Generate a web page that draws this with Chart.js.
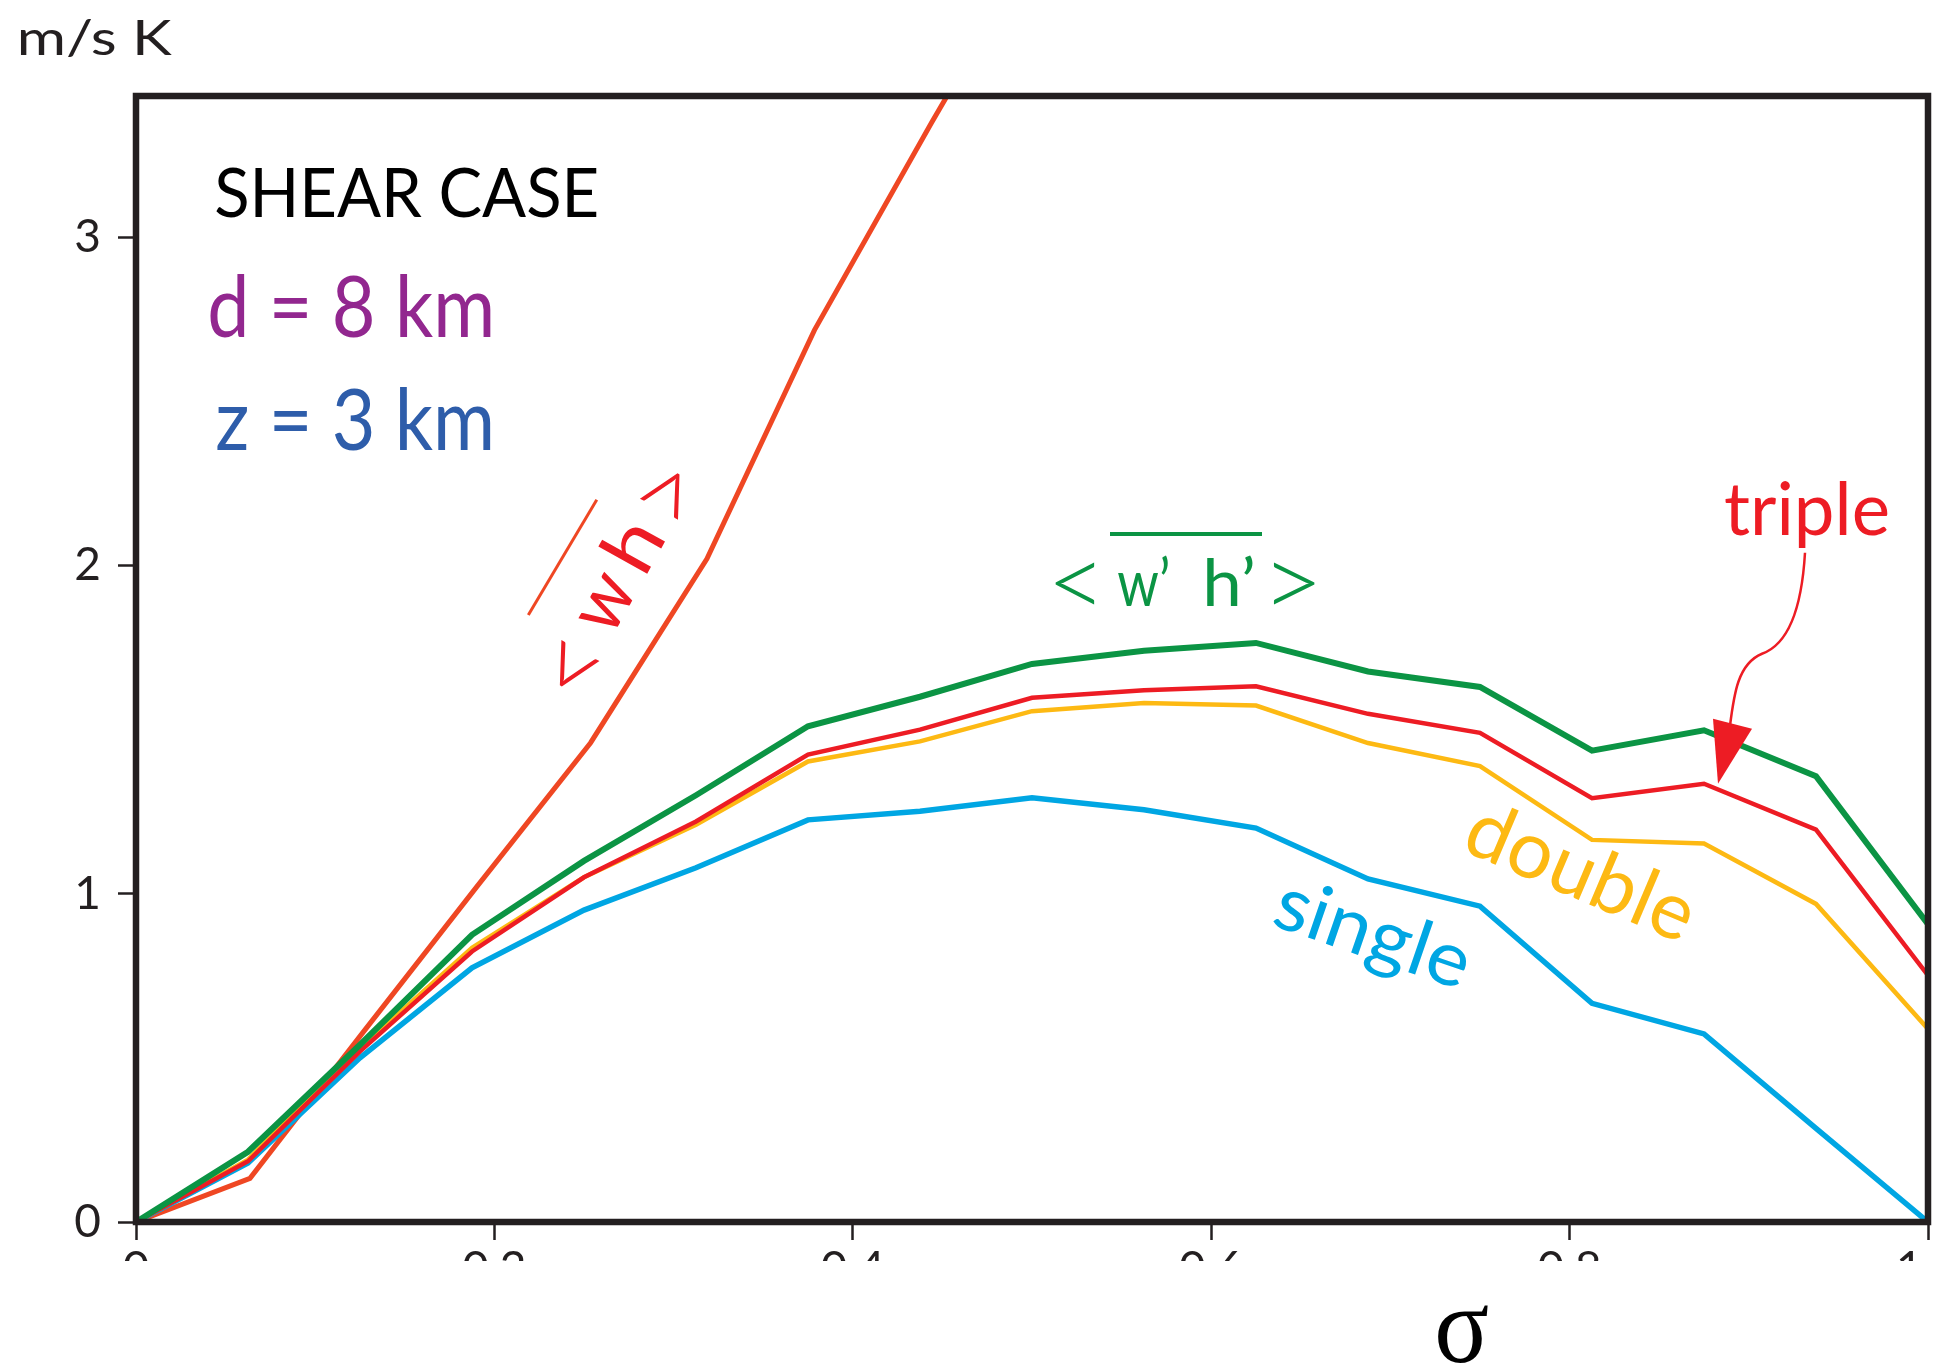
<!DOCTYPE html>
<html>
<head>
<meta charset="utf-8">
<script src="https://cdn.jsdelivr.net/npm/chart.js@4.4.0/dist/chart.umd.min.js"></script>
<style>
  html, body { margin: 0; padding: 0; background: #fff; }
  canvas { display: block; }
</style>
</head>
<body>
<canvas id="chart" width="1935" height="1365"></canvas>
<script>
// sigma levels shared by the four flux curves
const sigma = [0, 0.0625, 0.125, 0.1875, 0.25, 0.3125, 0.375, 0.4375, 0.5, 0.5625, 0.625, 0.6875, 0.75, 0.8125, 0.875, 0.9375, 1.0];

const wpHp = [0, 0.214, 0.54, 0.875, 1.10, 1.30, 1.51, 1.60, 1.70, 1.74, 1.764, 1.677, 1.63, 1.436, 1.498, 1.358, 0.907];
const tripleRun = [0, 0.185, 0.52, 0.824, 1.05, 1.22, 1.424, 1.50, 1.597, 1.62, 1.632, 1.548, 1.49, 1.291, 1.335, 1.195, 0.751];
const doubleRun = [0, 0.19, 0.53, 0.835, 1.05, 1.21, 1.403, 1.464, 1.556, 1.581, 1.573, 1.459, 1.389, 1.164, 1.153, 0.969, 0.588];
const singleRun = [0, 0.18, 0.50, 0.774, 0.95, 1.079, 1.225, 1.251, 1.292, 1.256, 1.20, 1.045, 0.962, 0.666, 0.573, 0.285, 0];

// <wh> curve, sampled slightly off the grid above
const whSigma = [0, 0.0636, 0.127, 0.19, 0.2537, 0.3186, 0.3786, 0.444, 0.51];
const wh = [0, 0.133, 0.58, 1.02, 1.46, 2.02, 2.717, 3.349, 3.97];

const xTicks = [0, 0.2, 0.4, 0.6, 0.8, 1.0];
const xTickLabels = ['0', '0.2', '0.4', '0.6', '0.8', '1.0'];
const yTicks = [0, 1, 2, 3];
const yTickLabels = ['0', '1', '2', '3'];

const INK = '#231F20';
const pts = (xs, ys) => ys.map((y, i) => ({ x: xs[i], y: y }));
const F = 'Lato, "Open Sans", sans-serif';
const THIN = '300 100px ' + F;   // light face for the angle brackets

// stretch a text's ink into a box (the source font is a narrow Myriad)
function fitBox(ctx, txt, bx, by, bw, bh, font, color) {
  ctx.save();
  ctx.font = font;
  ctx.textAlign = 'left';
  ctx.textBaseline = 'alphabetic';
  const m = ctx.measureText(txt);
  const L = m.actualBoundingBoxLeft, R = m.actualBoundingBoxRight;
  const A = m.actualBoundingBoxAscent, D = m.actualBoundingBoxDescent;
  ctx.translate(bx, by);
  ctx.scale(bw / (L + R), bh / (A + D));
  ctx.fillStyle = color;
  ctx.fillText(txt, L, A);
  ctx.restore();
}

// text fitted to a width only, optionally rotated around its centre
function fitText(ctx, txt, x, y, o) {
  ctx.save();
  ctx.font = o.font;
  const m = ctx.measureText(txt);
  const inkL = m.actualBoundingBoxLeft, inkR = m.actualBoundingBoxRight;
  const sx = o.w ? o.w / (inkL + inkR) : 1;
  ctx.translate(x, y);
  if (o.angle) ctx.rotate(o.angle * Math.PI / 180);
  ctx.scale(sx, 1);
  ctx.fillStyle = o.color;
  ctx.textAlign = 'left';
  ctx.textBaseline = o.baseline || 'alphabetic';
  const ox = o.center ? -(inkR - inkL) / 2 : inkL;
  ctx.fillText(txt, ox, 0);
  ctx.restore();
}

function bar(ctx, x1, y1, x2, y2, w, color) {
  ctx.save();
  ctx.strokeStyle = color;
  ctx.lineWidth = w;
  ctx.beginPath();
  ctx.moveTo(x1, y1);
  ctx.lineTo(x2, y2);
  ctx.stroke();
  ctx.restore();
}

const notes = {
  id: 'notes',
  beforeDraw(chart) {
    const ctx = chart.ctx;
    ctx.save();
    ctx.fillStyle = '#fff';
    ctx.fillRect(0, 0, chart.width, chart.height);
    ctx.restore();
  },
  afterDatasetsDraw(chart) {
    const ctx = chart.ctx, a = chart.chartArea;
    ctx.save();
    ctx.strokeStyle = INK;
    ctx.lineWidth = 6.5;
    ctx.strokeRect(a.left, a.top, a.right - a.left, a.bottom - a.top);
    ctx.restore();
  },
  afterDraw(chart) {
    const ctx = chart.ctx;
    const xs = chart.scales.x, ys = chart.scales.y;

    // the source figure has its x tick labels cut off below their tops
    ctx.save();
    ctx.fillStyle = '#fff';
    ctx.fillRect(0, xs.top + 39, chart.width, 50);
    ctx.restore();

    fitBox(ctx, 'm/s K', 20, 19, 152, 39, '54px ' + F, INK);
    fitBox(ctx, 'SHEAR CASE', 216, 168, 381, 50, '70px ' + F, '#000');
    fitBox(ctx, 'd = 8 km', 210, 275, 281, 63, '86px ' + F, '#92278F');
    fitBox(ctx, 'z = 3 km', 217, 388, 274, 63, '86px ' + F, '#2E5DAA');

    // < w' h' > with overbar
    const G = '#0B9444';
    fitBox(ctx, '<', 1055, 562, 40, 43, THIN, G);
    fitBox(ctx, 'w\u2019', 1118, 555, 50, 51, '76px ' + F, G);
    fitBox(ctx, 'h\u2019', 1207, 555, 46, 51, '76px ' + F, G);
    fitBox(ctx, '>', 1273, 562, 42, 43, THIN, G);
    bar(ctx, 1110, 534, 1262, 534, 4, G);

    // rotated < w h > with overbar, local frame centred on the label
    ctx.save();
    ctx.translate(622, 580);
    ctx.rotate(-61 * Math.PI / 180);
    const R = '#ED1C24';
    fitBox(ctx, '<', -123, -25, 42, 45, THIN, R);
    fitBox(ctx, 'w', -55, -19, 54, 38, '80px ' + F, R);
    fitBox(ctx, 'h', 17, -36, 38, 55, '80px ' + F, R);
    fitBox(ctx, '>', 79, -25, 42, 45, THIN, R);
    bar(ctx, -76, -65, 58, -61, 3, '#EF4723');
    ctx.restore();

    fitText(ctx, 'double', 1581, 873, { font: '80px ' + F, w: 236, color: '#FDB913', angle: 23, center: true, baseline: 'middle' });
    fitText(ctx, 'single', 1373, 934, { font: '76px ' + F, w: 198, color: '#00A6E3', angle: 19, center: true, baseline: 'middle' });
    fitBox(ctx, 'triple', 1725, 482, 163, 66, '70px ' + F, '#ED1C24');

    // curly arrow from "triple" down to its curve
    const tx = xs.getPixelForValue(sigma[14]) + 14, ty = ys.getPixelForValue(tripleRun[14]);
    ctx.save();
    ctx.translate(tx, ty);
    ctx.strokeStyle = '#ED1C24';
    ctx.fillStyle = '#ED1C24';
    ctx.lineWidth = 2.5;
    ctx.beginPath();
    ctx.moveTo(87, -231);
    ctx.bezierCurveTo(84, -180, 72, -140, 44, -130);
    ctx.bezierCurveTo(20, -120, 16, -90, 12, -58);
    ctx.stroke();
    ctx.beginPath();
    ctx.moveTo(-5, -65);
    ctx.lineTo(34, -55);
    ctx.lineTo(0, 0);
    ctx.closePath();
    ctx.fill();
    ctx.restore();

    // sigma axis title
    fitText(ctx, '\u03C3', 1438, 1362, { font: '110px "Liberation Serif", serif', w: 50, color: '#000' });
  }
};

new Chart(document.getElementById('chart'), {
  type: 'line',
  data: {
    datasets: [
      { data: pts(sigma, wpHp), borderColor: '#0B9444', borderWidth: 6 },
      { data: pts(sigma, tripleRun), borderColor: '#ED1C24', borderWidth: 4.5 },
      { data: pts(sigma, doubleRun), borderColor: '#FDB913', borderWidth: 4.5 },
      { data: pts(sigma, singleRun), borderColor: '#00A6E3', borderWidth: 5.5 },
      { data: pts(whSigma, wh), borderColor: '#EF4723', borderWidth: 5 }
    ]
  },
  options: {
    responsive: false,
    devicePixelRatio: 1,
    animation: false,
    layout: { padding: { top: 96, right: 7, left: 0, bottom: 0 } },
    elements: { point: { radius: 0 }, line: { tension: 0, fill: false } },
    scales: {
      x: {
        type: 'linear',
        min: 0,
        max: 1,
        afterBuildTicks: s => { s.ticks = xTicks.map(v => ({ value: v })); },
        afterFit: s => { s.height = 143; s.paddingLeft = 0; s.paddingRight = 0; },
        ticks: {
          autoSkip: false,
          maxRotation: 0,
          padding: 2,
          color: INK,
          font: { family: 'Lato', size: 46 },
          callback: (v, i) => xTickLabels[i]
        },
        grid: { drawOnChartArea: false, tickLength: 18, tickWidth: 2.5, tickColor: INK },
        border: { display: false }
      },
      y: {
        min: 0,
        max: 3.43,
        afterBuildTicks: s => { s.ticks = yTicks.map(v => ({ value: v })); },
        afterFit: s => { s.width = 136; s.paddingTop = 0; s.paddingBottom = 0; },
        ticks: {
          padding: 17,
          color: INK,
          font: { family: 'Lato', size: 46 },
          callback: (v, i) => yTickLabels[i]
        },
        grid: { drawOnChartArea: false, tickLength: 18, tickWidth: 2.5, tickColor: INK },
        border: { display: false }
      }
    },
    plugins: {
      legend: { display: false },
      tooltip: { enabled: false }
    }
  },
  plugins: [notes]
});
</script>
</body>
</html>
